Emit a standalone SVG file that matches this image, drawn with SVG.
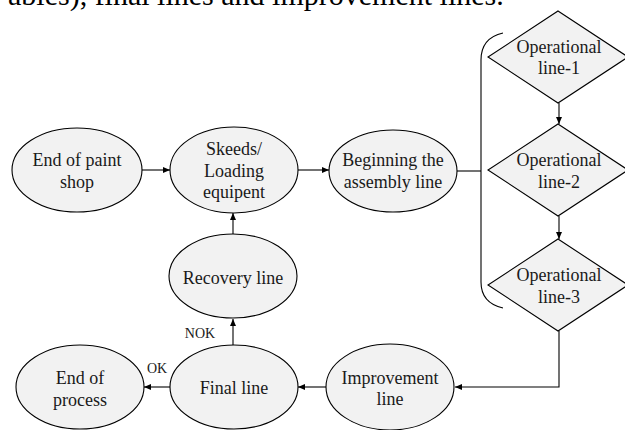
<svg xmlns="http://www.w3.org/2000/svg" width="625" height="430" viewBox="0 0 625 430">
<defs>
<marker id="arr" markerWidth="8" markerHeight="6" refX="7" refY="3" orient="auto" markerUnits="userSpaceOnUse">
<path d="M0,0 L7,3 L0,6 Z" fill="#000"/>
</marker>
<style>
.n{fill:#f2f2f2;stroke:#000;stroke-width:1.1}
.t{font-family:"Liberation Serif","Times New Roman",serif;font-size:18px;fill:#1a1a1a;text-anchor:middle}
.s{font-family:"Liberation Serif","Times New Roman",serif;font-size:14px;fill:#1a1a1a;text-anchor:middle}
.c{fill:none;stroke:#000;stroke-width:1.1}
.a{marker-end:url(#arr)}
</style>
</defs>
<rect width="625" height="430" fill="#fff"/>
<text x="8" y="5" font-family="Liberation Serif, serif" font-size="30" fill="#000">ables), final lines and improvement lines.</text>
<g id="connectors">
<path class="c a" d="M142,170 L170,170"/>
<path class="c a" d="M298,170 L329,170"/>
<path class="c" d="M457,171 L481,171"/>
<path class="c" d="M503,33 Q481,38 481,60 L481,282 Q481,303 503,308"/>
<path class="c a" d="M559,103 L559,124"/>
<path class="c a" d="M559,216 L559,239"/>
<path class="c a" d="M559,331 L559,387 L455,387"/>
<path class="c a" d="M326,387 L298,387"/>
<path class="c a" d="M170,387 L144,387"/>
<path class="c a" d="M233,345 L233,319"/>
<path class="c a" d="M233,234 L233,213"/>
<text class="s" x="157" y="373">OK</text>
<text class="s" x="200" y="338">NOK</text>
</g>
<g id="end-of-paint-shop">
<ellipse class="n" cx="77" cy="170" rx="65" ry="42"/>
<text class="t" x="77" y="166">End of paint</text>
<text class="t" x="77" y="188">shop</text>
</g>
<g id="skeeds">
<ellipse class="n" cx="234" cy="170" rx="64" ry="43"/>
<text class="t" x="234" y="155">Skeeds/</text>
<text class="t" x="234" y="177">Loading</text>
<text class="t" x="234" y="198">equipent</text>
</g>
<g id="beginning">
<ellipse class="n" cx="393" cy="171" rx="64" ry="41"/>
<text class="t" x="393" y="166">Beginning the</text>
<text class="t" x="393" y="188">assembly line</text>
</g>
<g id="op1">
<polygon class="n" points="558,11 628,57 558,103 488,57"/>
<text class="t" x="559" y="53">Operational</text>
<text class="t" x="559" y="74">line-1</text>
</g>
<g id="op2">
<polygon class="n" points="558,124 628,170 558,216 488,170"/>
<text class="t" x="559" y="166">Operational</text>
<text class="t" x="559" y="188">line-2</text>
</g>
<g id="op3">
<polygon class="n" points="558,239 628,285 558,331 488,285"/>
<text class="t" x="559" y="281">Operational</text>
<text class="t" x="559" y="303">line-3</text>
</g>
<g id="improvement">
<ellipse class="n" cx="390" cy="387" rx="64" ry="43"/>
<text class="t" x="390" y="384">Improvement</text>
<text class="t" x="390" y="405">line</text>
</g>
<g id="final">
<ellipse class="n" cx="234" cy="387" rx="64" ry="42"/>
<text class="t" x="234" y="394">Final line</text>
</g>
<g id="end-of-process">
<ellipse class="n" cx="80" cy="387" rx="64" ry="42"/>
<text class="t" x="80" y="384">End of</text>
<text class="t" x="80" y="406">process</text>
</g>
<g id="recovery">
<ellipse class="n" cx="233" cy="276" rx="64" ry="42"/>
<text class="t" x="233" y="284">Recovery line</text>
</g>
</svg>
